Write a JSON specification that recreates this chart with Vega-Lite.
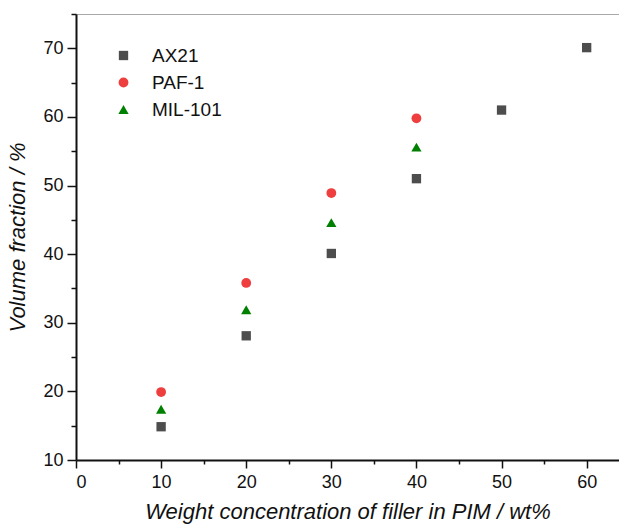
{
  "$schema": "https://vega.github.io/schema/vega-lite/v6.json",
  "width": 543,
  "height": 446,
  "autosize": "none",
  "padding": {"left": 76, "top": 14, "right": 0, "bottom": 66},
  "background": "white",
  "config": {
    "view": {"stroke": null},
    "axis": {
      "labelFont": "Liberation Sans",
      "titleFont": "Liberation Sans",
      "labelColor": "#111111",
      "titleColor": "#111111",
      "domainColor": "#111111",
      "tickColor": "#111111",
      "grid": false
    },
    "legend": {"labelFont": "Liberation Sans"}
  },
  "data": {
    "values": [
      {"filler": "AX21", "wt": 10, "vf": 14.85},
      {"filler": "AX21", "wt": 20, "vf": 28.1},
      {"filler": "AX21", "wt": 30, "vf": 40.1},
      {"filler": "AX21", "wt": 40, "vf": 51.0},
      {"filler": "AX21", "wt": 50, "vf": 61.0},
      {"filler": "AX21", "wt": 60, "vf": 70.1},
      {"filler": "PAF-1", "wt": 10, "vf": 19.9},
      {"filler": "PAF-1", "wt": 20, "vf": 35.8},
      {"filler": "PAF-1", "wt": 30, "vf": 48.9},
      {"filler": "PAF-1", "wt": 40, "vf": 59.8},
      {"filler": "MIL-101", "wt": 10, "vf": 17.4},
      {"filler": "MIL-101", "wt": 20, "vf": 31.9},
      {"filler": "MIL-101", "wt": 30, "vf": 44.6},
      {"filler": "MIL-101", "wt": 40, "vf": 55.6}
    ]
  },
  "layer": [
    {
      "mark": {"type": "point", "filled": true, "opacity": 1, "strokeWidth": 0},
      "encoding": {
        "x": {
          "field": "wt", "type": "quantitative",
          "scale": {"domain": [0, 63.8], "nice": false, "zero": false},
          "axis": {
            "orient": "bottom",
            "values": [0, 10, 20, 30, 40, 50, 60],
            "title": "Weight concentration of filler in PIM / wt%",
            "titleFontSize": 22, "titleFontStyle": "italic", "titleFontWeight": "normal",
            "titlePadding": 10,
            "labelFontSize": 18, "labelPadding": 5,
            "tickSize": 8, "tickWidth": 1.5, "domainWidth": 2
          }
        },
        "y": {
          "field": "vf", "type": "quantitative",
          "scale": {"domain": [10, 75], "nice": false, "zero": false},
          "axis": {
            "orient": "left",
            "values": [10, 20, 30, 40, 50, 60, 70],
            "title": "Volume fraction / %",
            "titleFontSize": 22, "titleFontStyle": "italic", "titleFontWeight": "normal",
            "titlePadding": 13,
            "labelFontSize": 18, "labelPadding": 4,
            "tickSize": 9, "tickWidth": 1.5, "domainWidth": 2
          }
        },
        "color": {
          "field": "filler", "type": "nominal",
          "scale": {"domain": ["AX21", "PAF-1", "MIL-101"], "range": ["#4d4d4d", "#ef3e3e", "#008000"]},
          "legend": {
            "title": null, "orient": "none", "legendX": 38, "legendY": 32,
            "labelFontSize": 19, "labelColor": "#111111", "labelOffset": 19,
            "rowPadding": 7, "symbolStrokeWidth": 0
          }
        },
        "shape": {
          "field": "filler", "type": "nominal",
          "scale": {"domain": ["AX21", "PAF-1", "MIL-101"], "range": ["square", "circle", "triangle-up"]}
        },
        "size": {
          "field": "filler", "type": "nominal",
          "scale": {"domain": ["AX21", "PAF-1", "MIL-101"], "range": [87, 105, 220]}
        }
      }
    },
    {
      "mark": {"type": "point", "opacity": 0},
      "encoding": {
        "x": {
          "field": "wt", "type": "quantitative",
          "axis": {
            "orient": "bottom", "values": [5, 15, 25, 35, 45, 55],
            "labels": false, "domain": false, "title": null,
            "tickSize": 4, "tickWidth": 1.5
          }
        },
        "y": {
          "field": "vf", "type": "quantitative",
          "axis": {
            "orient": "left", "values": [15, 25, 35, 45, 55, 65, 75],
            "labels": false, "domain": false, "title": null,
            "tickSize": 5, "tickWidth": 1.5
          }
        }
      }
    },
    {
      "mark": {"type": "point", "opacity": 0},
      "encoding": {
        "x": {
          "field": "wt", "type": "quantitative",
          "axis": {
            "orient": "top", "labels": false, "ticks": false, "title": null,
            "domain": true, "domainColor": "#a8a8a8", "domainWidth": 1.2
          }
        },
        "y": {"field": "vf", "type": "quantitative", "axis": null}
      }
    }
  ],
  "resolve": {"axis": {"x": "independent", "y": "independent"}}
}
